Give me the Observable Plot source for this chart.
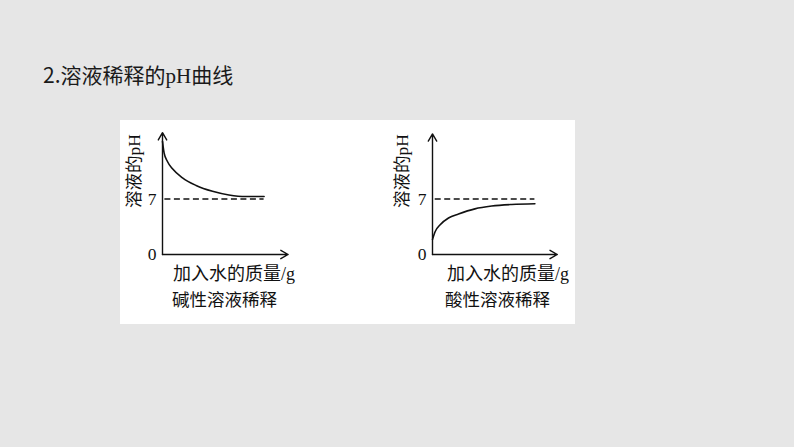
<!DOCTYPE html>
<html>
<head>
<meta charset="utf-8">
<script src="https://cdn.jsdelivr.net/npm/d3@7"></script>
<script src="https://cdn.jsdelivr.net/npm/@observablehq/plot@0.6"></script>
<style>
  html, body { margin: 0; padding: 0; }
  body { width: 794px; height: 447px; background: #e6e6e6; position: relative; overflow: hidden;
         font-family: "Liberation Serif", "Noto Sans CJK SC", serif; color: #111; }
  .abs { position: absolute; white-space: nowrap; line-height: 1; }
  #title { left: 43px; top: 64px; font-size: 21px; font-family: "Noto Sans CJK SC", "Noto Sans", sans-serif; color: #1a1a1a; }
  #title .ph { font-family: "Liberation Serif", serif; }
  #panel { left: 120px; top: 120px; width: 455px; height: 204px; background: #fff; }
  .chart { position: absolute; top: 120px; }
  .chart svg { overflow: visible; }
  .chart svg text { font-size: 17.5px !important; font-family: "Liberation Serif", "Noto Sans CJK SC", serif !important; }
  .xlab { font-size: 18px; }
  .cap { font-size: 17.5px; }
</style>
</head>
<body>
<div id="title" class="abs">2.溶液稀释的<span class="ph">pH</span>曲线</div>
<div id="panel" class="abs"></div>
<div id="c1" class="chart" style="left:120px"></div>
<div id="c2" class="chart" style="left:390px"></div>
<div class="abs xlab" style="left:173px; top:265px">加入水的质量/g</div>
<div class="abs cap" style="left:172px; top:292px">碱性溶液稀释</div>
<div class="abs xlab" style="left:447px; top:265px">加入水的质量/g</div>
<div class="abs cap" style="left:445px; top:292px">酸性溶液稀释</div>
<script>
// tick labels and axis text
const yTicks = [0, 7];
const yLabel = "溶液的pH";
const neutralPH = 7;

// alkaline dilution curve (x: water added, arbitrary units; y: pH)
const alkX = [0, 0.08, 0.2, 0.6, 1.25, 2.5, 4.2, 6.25, 8.3, 10.4, 12.7];
const alkY = [14.25, 13.6, 12.8, 11.75, 10.8, 9.66, 8.7, 7.96, 7.5, 7.3, 7.3];
const alkDash = [0.3, 12.7];
const alkAxisEnd = [15.7, 15.35];

// acidic dilution curve
const acidX = [0, 0.34, 0.96, 2.0, 3.25, 5.3, 7.4, 9.9, 12.8];
const acidY = [1.9, 2.9, 3.75, 4.6, 5.1, 5.75, 6.1, 6.3, 6.4];
const acidDash = [0.34, 12.8];
const acidAxisEnd = [15.6, 15.2];

const FONT = "'Liberation Serif', 'Noto Sans CJK SC', serif";

function chart(xs, ys, dash, axisEnd, labelDx) {
  const pts = xs.map((x, i) => ({x, y: ys[i]}));
  return Plot.plot({
    width: 228,
    height: 145,
    marginLeft: 42,
    marginRight: 58,
    marginTop: 7,
    marginBottom: 11,
    x: {domain: [0, 16], axis: null},
    y: {domain: [0, 16], axis: null},
    style: {fontFamily: FONT, fontSize: "17px", background: "transparent", color: "#111", overflow: "visible"},
    marks: [
      Plot.axisY({ticks: yTicks, tickSize: 0, tickPadding: 6, label: null, fontSize: 17}),
      Plot.arrow([{x1: 0, y1: 0, x2: axisEnd[0], y2: 0}], {x1: "x1", y1: "y1", x2: "x2", y2: "y2", stroke: "#111", strokeWidth: 1.4, headLength: 9}),
      Plot.arrow([{x1: 0, y1: 0, x2: 0, y2: axisEnd[1]}], {x1: "x1", y1: "y1", x2: "x2", y2: "y2", stroke: "#111", strokeWidth: 1.4, headLength: 9}),
      Plot.ruleY([neutralPH], {x1: dash[0], x2: dash[1], stroke: "#111", strokeWidth: 1.5, strokeDasharray: "6,3.5"}),
      Plot.line(pts, {x: "x", y: "y", curve: "monotone-x", stroke: "#111", strokeWidth: 1.6}),
      Plot.text([yLabel], {frameAnchor: "left", textAnchor: "middle", lineAnchor: "middle", rotate: -90, dx: labelDx, dy: -20, fontSize: 17, fill: "#111"})
    ]
  });
}

document.getElementById("c1").append(chart(alkX, alkY, alkDash, alkAxisEnd, -28));
document.getElementById("c2").append(chart(acidX, acidY, acidDash, acidAxisEnd, -30));
</script>
</body>
</html>
